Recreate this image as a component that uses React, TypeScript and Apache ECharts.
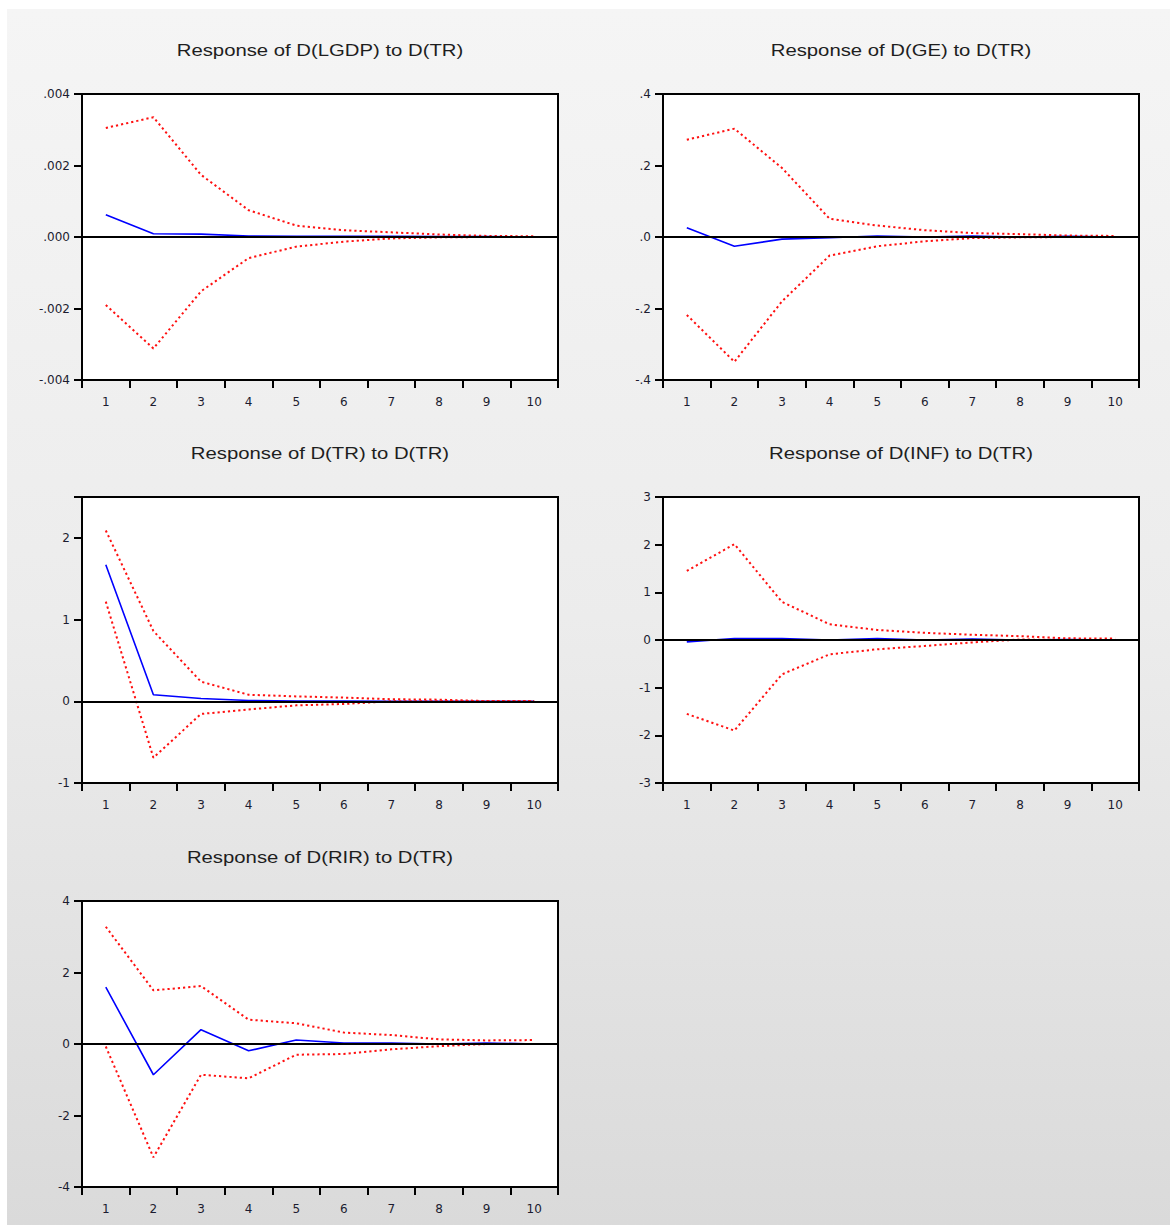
import React, { useEffect, useRef } from "react";
import * as echarts from "echarts";

const periods = ["1", "2", "3", "4", "5", "6", "7", "8", "9", "10"];

const lgdpResponse = [0.00062, 0.00009, 0.00008, 0.00003, 0.00002, 0.00002, 0.00002, 0.00001, 0.00001, 0.000005];
const lgdpUpper = [0.00305, 0.00335, 0.00174, 0.00075, 0.00032, 0.00019, 0.00013, 0.00007, 0.00003, 0.00002];
const lgdpLower = [-0.0019, -0.00312, -0.00152, -0.00059, -0.00027, -0.00013, -0.00004, -0.00001, 0.0, 0.0];

const geResponse = [0.026, -0.026, -0.006, -0.002, 0.003, 0.0, 0.003, 0.0, 0.002, 0.0];
const geUpper = [0.272, 0.303, 0.193, 0.051, 0.032, 0.019, 0.011, 0.008, 0.004, 0.003];
const geLower = [-0.218, -0.349, -0.18, -0.052, -0.026, -0.012, -0.003, -0.001, 0.0, 0.0];

const trResponse = [1.67, 0.08, 0.035, 0.01, 0.004, 0.002, 0.001, 0.0, 0.0, 0.0];
const trUpper = [2.09, 0.86, 0.24, 0.08, 0.06, 0.045, 0.025, 0.02, 0.003, 0.002];
const trLower = [1.22, -0.69, -0.155, -0.1, -0.05, -0.033, 0.0, 0.0, -0.001, -0.001];

const infResponse = [-0.04, 0.03, 0.03, 0.0, 0.03, 0.0, 0.02, 0.0, 0.01, 0.0];
const infUpper = [1.45, 2.01, 0.8, 0.33, 0.21, 0.15, 0.11, 0.08, 0.035, 0.03];
const infLower = [-1.55, -1.9, -0.72, -0.3, -0.195, -0.125, -0.05, 0.01, 0.0, 0.0];

const rirResponse = [1.59, -0.86, 0.4, -0.19, 0.11, 0.03, 0.03, 0.0, 0.03, 0.0];
const rirUpper = [3.28, 1.5, 1.62, 0.68, 0.58, 0.32, 0.25, 0.13, 0.1, 0.11];
const rirLower = [-0.07, -3.17, -0.86, -0.96, -0.3, -0.28, -0.15, -0.06, 0.0, 0.0];

const panelTitles = [
  "Response of D(LGDP) to D(TR)",
  "Response of D(GE) to D(TR)",
  "Response of D(TR) to D(TR)",
  "Response of D(INF) to D(TR)",
  "Response of D(RIR) to D(TR)",
];

const lgdpTicks = [-0.004, -0.002, 0, 0.002, 0.004];
const geTicks = [-0.4, -0.2, 0, 0.2, 0.4];
const trTicks = [-1, 0, 1, 2];
const infTicks = [-3, -2, -1, 0, 1, 2, 3];
const rirTicks = [-4, -2, 0, 2, 4];

const dotFmt = (digits: number) => (v: number) => {
  if (Math.abs(v) < 1e-12) return "." + "0".repeat(digits);
  const s = Math.abs(v).toFixed(digits).replace(/^0/, "");
  return (v < 0 ? "-" : "") + s;
};
const intFmt = (v: number) => (Math.abs(v - Math.round(v)) < 1e-9 ? String(Math.round(v)) : "");

const panels = [
  { resp: lgdpResponse, upper: lgdpUpper, lower: lgdpLower, ticks: lgdpTicks, min: -0.004, max: 0.004, fmt: dotFmt(3), left: 82, top: 94 },
  { resp: geResponse, upper: geUpper, lower: geLower, ticks: geTicks, min: -0.4, max: 0.4, fmt: dotFmt(1), left: 663, top: 94 },
  { resp: trResponse, upper: trUpper, lower: trLower, ticks: trTicks, min: -1, max: 2.5, fmt: intFmt, left: 82, top: 497 },
  { resp: infResponse, upper: infUpper, lower: infLower, ticks: infTicks, min: -3, max: 3, fmt: intFmt, left: 663, top: 497 },
  { resp: rirResponse, upper: rirUpper, lower: rirLower, ticks: rirTicks, min: -4, max: 4, fmt: intFmt, left: 82, top: 901 },
];

const GRID_W = 476;
const GRID_H = 286;

export default function App() {
  const ref = useRef<HTMLDivElement>(null);

  useEffect(() => {
    if (!ref.current) return;
    const chart = echarts.init(ref.current, null, { renderer: "svg" });

    const grids: any[] = [];
    const xAxes: any[] = [];
    const yAxes: any[] = [];
    const series: any[] = [];
    const graphics: any[] = [];

    panels.forEach((p, i) => {
      grids.push({
        left: p.left,
        top: p.top,
        width: GRID_W,
        height: GRID_H,
        show: true,
        backgroundColor: "#ffffff",
        borderColor: "#000000",
        borderWidth: 2,
      });
      xAxes.push({
        type: "category",
        gridIndex: i,
        data: periods,
        boundaryGap: true,
        position: "bottom",
        axisLine: { show: true, onZero: false, lineStyle: { color: "#000", width: 2 } },
        axisTick: { show: true, interval: 0, alignWithLabel: false, length: 8, lineStyle: { color: "#000", width: 2 } },
        axisLabel: { interval: 0, margin: 16, color: "#1c1c30", fontFamily: "DejaVu Sans", fontSize: 12 },
        splitLine: { show: false },
      });
      yAxes.push({
        type: "value",
        gridIndex: i,
        position: "left",
        min: p.min,
        max: p.max,
        interval: p.ticks[1] - p.ticks[0],
        axisLine: { show: true, onZero: false, lineStyle: { color: "#000", width: 2 } },
        axisTick: { show: true, length: 8, lineStyle: { color: "#000", width: 2 } },
        axisLabel: {
          margin: 12,
          color: "#1c1c30",
          fontFamily: "DejaVu Sans",
          fontSize: 12,
          formatter: p.fmt,
        },
        splitLine: { show: false },
      });
      series.push({
        type: "line",
        xAxisIndex: i,
        yAxisIndex: i,
        data: [],
        z: 1,
        silent: true,
        markLine: {
          silent: true,
          symbol: ["none", "none"],
          label: { show: false },
          lineStyle: { color: "#000", width: 2, type: "solid" },
          emphasis: { disabled: true },
          data: [{ yAxis: 0 }],
        },
      });
      series.push({
        type: "line",
        xAxisIndex: i,
        yAxisIndex: i,
        data: p.resp,
        z: 3,
        symbol: "none",
        silent: true,
        lineStyle: { color: "#0000ff", width: 1.6 },
      });
      [p.upper, p.lower].forEach((d) => {
        series.push({
          type: "line",
          xAxisIndex: i,
          yAxisIndex: i,
          data: d,
          z: 4,
          symbol: "none",
          silent: true,
          lineStyle: { color: "#ff1010", width: 2, type: [2.2, 3] },
        });
      });
      graphics.push({
        type: "text",
        x: p.left + GRID_W / 2,
        y: p.top - 44,
        scaleX: 1.27,
        silent: true,
        style: {
          text: panelTitles[i],
          fontFamily: "Liberation Sans",
          fontSize: 16,
          fill: "#1e1e1e",
          align: "center",
          verticalAlign: "middle",
        },
      });
    });

    chart.setOption({
      animation: false,
      backgroundColor: "transparent",
      grid: grids,
      xAxis: xAxes,
      yAxis: yAxes,
      series,
      graphic: graphics,
    });

    return () => chart.dispose();
  }, []);

  return (
    <div style={{ position: "absolute", left: 0, top: 0, width: 1170, height: 1225, background: "#ffffff" }}>
      <div
        style={{
          position: "absolute",
          left: 7,
          top: 9,
          width: 1163,
          height: 1216,
          background: "linear-gradient(to bottom, #f5f5f5 0%, #ececec 50%, #dadada 100%)",
        }}
      />
      <div ref={ref} style={{ position: "absolute", left: 0, top: 0, width: 1170, height: 1225 }} />
    </div>
  );
}
